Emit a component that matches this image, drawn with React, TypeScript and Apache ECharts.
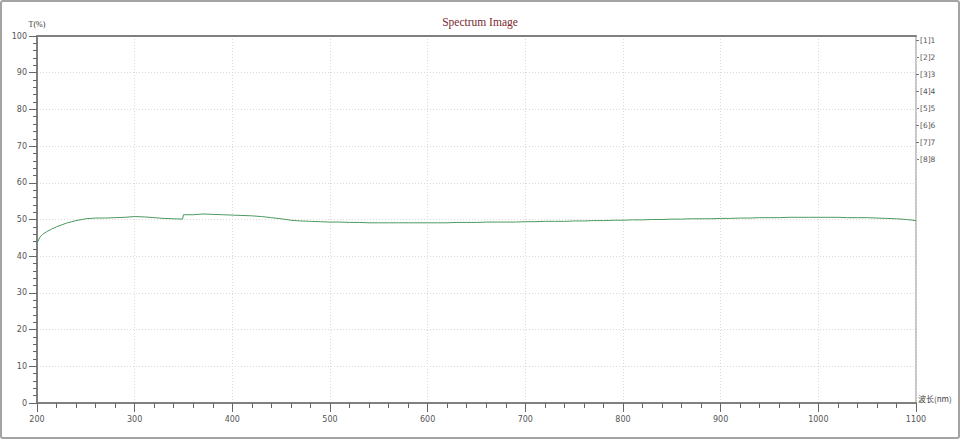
import React, { useEffect, useRef } from "react";
import * as echarts from "echarts";

const wavelengths: number[] = [
  200, 203, 206, 210, 215, 220, 230, 240, 250, 260, 270, 280, 290, 300, 310, 320, 330, 340, 349, 350,
  360, 370, 380, 390, 400, 410, 420, 430, 440, 450, 460, 470, 480, 490, 500, 510, 520, 530, 540, 550,
  560, 570, 580, 590, 600, 610, 620, 630, 640, 650, 660, 670, 680, 690, 700, 710, 720, 730, 740, 750,
  760, 770, 780, 790, 800, 810, 820, 830, 840, 850, 860, 870, 880, 890, 900, 910, 920, 930, 940, 950,
  960, 970, 980, 990, 1000, 1010, 1020, 1030, 1040, 1050, 1060, 1070, 1080, 1090, 1100,
];

const transmittance: number[] = [
  43.5, 45.2, 46.0, 46.7, 47.4, 48.0, 49.0, 49.7, 50.2, 50.4, 50.4, 50.5, 50.6, 50.8, 50.7, 50.5, 50.3, 50.2, 50.1, 51.3,
  51.3, 51.5, 51.4, 51.3, 51.2, 51.1, 51.0, 50.8, 50.5, 50.2, 49.8, 49.6, 49.5, 49.4, 49.3, 49.3, 49.2, 49.2, 49.1, 49.1,
  49.1, 49.1, 49.1, 49.1, 49.1, 49.1, 49.1, 49.2, 49.2, 49.2, 49.3, 49.3, 49.3, 49.3, 49.4, 49.4, 49.5, 49.5, 49.5, 49.6,
  49.6, 49.7, 49.7, 49.8, 49.8, 49.9, 49.9, 50.0, 50.0, 50.1, 50.1, 50.2, 50.2, 50.2, 50.3, 50.3, 50.4, 50.4, 50.5, 50.5,
  50.5, 50.6, 50.6, 50.6, 50.6, 50.6, 50.6, 50.5, 50.5, 50.5, 50.4, 50.3, 50.2, 50.0, 49.7,
];

const channelLabels: string[] = ["[1]1", "[2]2", "[3]3", "[4]4", "[5]5", "[6]6", "[7]7", "[8]8"];

const TITLE = "Spectrum Image";
const Y_NAME = "T(%)";
const X_NAME = "波长(nm)";

export default function App() {
  const ref = useRef<HTMLDivElement>(null);

  useEffect(() => {
    if (!ref.current) return;
    const chart = echarts.init(ref.current, undefined, { renderer: "svg" });
    const data = wavelengths.map((w, i) => [w, transmittance[i]]);
    const tickFont = { fontFamily: "DejaVu Sans", fontSize: 8, color: "#555" };

    const graphics: any[] = [
      {
        type: "rect",
        shape: { x: 1, y: 1, width: 958, height: 437, r: 2 },
        style: { fill: "none", stroke: "#a3a3a3", lineWidth: 2 },
        silent: true,
      },
    ];
    channelLabels.forEach((lab, i) => {
      const y = 40 + i * 17;
      graphics.push({
        type: "line",
        shape: { x1: 916, y1: y + 0.5, x2: 919, y2: y + 0.5 },
        style: { stroke: "#777777", lineWidth: 1 },
        silent: true,
      });
      graphics.push({
        type: "text",
        x: 920,
        y: y,
        style: {
          text: lab,
          fontFamily: "DejaVu Sans",
          fontSize: 7.5,
          fill: "#555555",
          verticalAlign: "middle",
          align: "left",
        },
        silent: true,
      });
    });

    chart.setOption({
      animation: false,
      backgroundColor: "#ffffff",
      title: {
        text: TITLE,
        left: "center",
        top: 11,
        textStyle: {
          fontFamily: "Liberation Serif",
          fontSize: 11.5,
          fontWeight: "normal",
          color: "#7b2a2f",
        },
      },
      grid: {
        left: 37,
        right: 44,
        top: 36,
        bottom: 36,
        show: true,
        borderColor: "#8a8a8a",
        borderWidth: 1,
      },
      xAxis: [
        {
          type: "value",
          min: 200,
          max: 1100,
          interval: 100,
          name: X_NAME,
          nameLocation: "end",
          nameGap: 2,
          nameTextStyle: {
            fontFamily: "Noto Sans CJK SC",
            fontSize: 8,
            color: "#444",
            verticalAlign: "bottom",
            align: "left",
            padding: [0, 0, 1, 0],
          },
          axisLine: { show: true, lineStyle: { color: "#808080", width: 2 } },
          axisTick: { show: true, length: 9, lineStyle: { color: "#666", width: 1 } },
          minorTick: { show: true, splitNumber: 5, length: 5, lineStyle: { color: "#666", width: 1 } },
          axisLabel: { ...tickFont, margin: 12, formatter: (v: number) => String(v) },
          splitLine: { show: true, lineStyle: { color: "#dadada", type: [1, 2], width: 1 } },
        },
        {
          type: "value",
          position: "top",
          min: 200,
          max: 1100,
          interval: 100,
          axisLine: { show: true, lineStyle: { color: "#808080", width: 2 } },
          axisTick: { show: false },
          axisLabel: { show: false },
          splitLine: { show: false },
        },
      ],
      yAxis: {
        type: "value",
        min: 0,
        max: 100,
        interval: 10,
        name: Y_NAME,
        nameLocation: "end",
        nameGap: 8,
        nameTextStyle: { fontFamily: "Liberation Serif", fontSize: 8, color: "#333", align: "center" },
        axisLine: { show: true, lineStyle: { color: "#808080", width: 2 } },
        axisTick: { show: true, length: 8, lineStyle: { color: "#666", width: 1 } },
        minorTick: { show: true, splitNumber: 5, length: 4, lineStyle: { color: "#666", width: 1 } },
        axisLabel: { ...tickFont, margin: 10 },
        splitLine: { show: true, lineStyle: { color: "#dadada", type: [1, 2], width: 1 } },
      },
      series: [
        {
          type: "line",
          data,
          showSymbol: false,
          symbol: "none",
          lineStyle: { color: "#4a9a5f", width: 1 },
          xAxisIndex: 0,
        },
      ],
      graphic: graphics,
    });

    return () => chart.dispose();
  }, []);

  return (
    <div
      ref={ref}
      style={{ position: "fixed", left: 0, top: 0, width: 960, height: 439, background: "#fff" }}
    />
  );
}
